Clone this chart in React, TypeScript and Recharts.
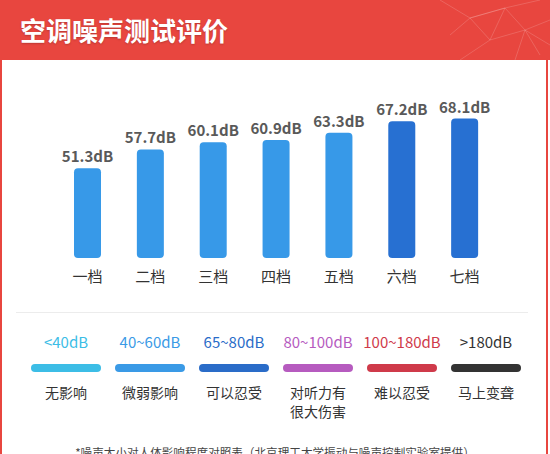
import React from "react";
import { Bar, BarChart, Cell, LabelList, XAxis, YAxis } from "recharts";

// fan speed gears and measured noise
const gears = ["一档", "二档", "三档", "四档", "五档", "六档", "七档"];
const noiseDb = [51.3, 57.7, 60.1, 60.9, 63.3, 67.2, 68.1];
const barColors = ["#3799e8", "#3799e8", "#3799e8", "#3799e8", "#3799e8", "#2770d2", "#2770d2"];

// reference table: noise range -> effect on people
const rangeLabels = ["<40dB", "40~60dB", "65~80dB", "80~100dB", "100~180dB", ">180dB"];
const rangeColors = ["#3cbde6", "#3a9ae6", "#2a6cc8", "#b65bbf", "#cf3a4a", "#333333"];
const rangeEffects = ["无影响", "微弱影响", "可以忍受", "对听力有\n很大伤害", "难以忍受", "马上变聋"];

const FONT = '"Noto Sans CJK SC", "Noto Sans", sans-serif';
const RED = "#e8463f";

const data = gears.map((gear, i) => ({ gear, db: noiseDb[i] }));

function GearTick(props: any) {
  const { x, y, payload } = props;
  return (
    <text x={x} y={y + 16} textAnchor="middle" fill="#333" fontSize={15} fontFamily={FONT}>
      {payload.value}
    </text>
  );
}

export default function App() {
  return (
    <div
      style={{
        position: "absolute",
        left: 0,
        top: 0,
        width: 550,
        height: 454,
        overflow: "hidden",
        background: "#fff",
        fontFamily: FONT,
      }}
    >
      {/* header */}
      <div style={{ position: "absolute", left: 0, top: 0, width: 550, height: 60, background: RED }}>
        <svg width={120} height={60} style={{ position: "absolute", right: 0, top: 0 }}>
          <g stroke="rgba(255,255,255,0.16)" strokeWidth={1} fill="none">
            <polyline points="10,0 40,18 75,8 110,0" />
            <polyline points="40,18 60,40 95,30 120,20" />
            <polyline points="60,40 30,60" />
            <polyline points="75,8 95,30 110,55" />
            <polyline points="40,18 75,8 60,40" />
            <polyline points="95,30 120,45" />
            <polyline points="20,35 40,18" />
            <polyline points="85,60 95,30" />
          </g>
        </svg>
        <div
          style={{
            position: "absolute",
            left: 20,
            top: 0,
            lineHeight: "60px",
            fontSize: 26,
            fontWeight: "bold",
            color: "#fff",
            textShadow: "0 1px 2px rgba(0,0,0,0.2)",
          }}
        >
          空调噪声测试评价
        </div>
      </div>
      {/* side borders */}
      <div style={{ position: "absolute", left: 0, top: 60, width: 2, height: 394, background: RED }} />
      <div style={{ position: "absolute", left: 546, top: 60, width: 2, height: 394, background: RED }} />

      {/* bar chart */}
      <div style={{ position: "absolute", left: 0, top: 60 }}>
        <BarChart width={550} height={240} data={data} margin={{ top: 53, right: 54, left: 56, bottom: 0 }}>
          <XAxis dataKey="gear" axisLine={false} tickLine={false} height={42} interval={0} tick={<GearTick />} />
          <YAxis hide domain={[21, 70]} />
          <Bar dataKey="db" barSize={27} radius={4} isAnimationActive={false}>
            {data.map((d, i) => (
              <Cell key={d.gear} fill={barColors[i]} />
            ))}
            <LabelList
              dataKey="db"
              position="top"
              offset={6}
              formatter={(v: number) => `${v}dB`}
              fill="#595959"
              fontSize={15}
              fontWeight="bold"
              fontFamily={FONT}
            />
          </Bar>
        </BarChart>
      </div>

      {/* divider */}
      <div style={{ position: "absolute", left: 16, top: 312, width: 512, height: 1, background: "#ececec" }} />

      {/* legend table */}
      {rangeLabels.map((label, i) => (
        <div key={label} style={{ position: "absolute", left: 24 + i * 84, top: 0, width: 84 }}>
          <div
            style={{
              position: "absolute",
              top: 332,
              width: 84,
              textAlign: "center",
              fontSize: 15,
              lineHeight: "20px",
              color: rangeColors[i],
              whiteSpace: "nowrap",
            }}
          >
            {label}
          </div>
          <div
            style={{
              position: "absolute",
              top: 364,
              left: 7,
              width: 70,
              height: 8,
              borderRadius: 4,
              background: rangeColors[i],
            }}
          />
          <div
            style={{
              position: "absolute",
              top: 383,
              width: 84,
              textAlign: "center",
              fontSize: 14,
              lineHeight: "19px",
              color: "#333",
              whiteSpace: "pre",
            }}
          >
            {rangeEffects[i]}
          </div>
        </div>
      ))}

      {/* footnote */}
      <div
        style={{
          position: "absolute",
          left: 0,
          top: 444,
          width: 550,
          textAlign: "center",
          fontSize: 11.6,
          lineHeight: "16px",
          color: "#444",
          whiteSpace: "nowrap",
        }}
      >
        *噪声大小对人体影响程度对照表（北京理工大学振动与噪声控制实验室提供）
      </div>
    </div>
  );
}
